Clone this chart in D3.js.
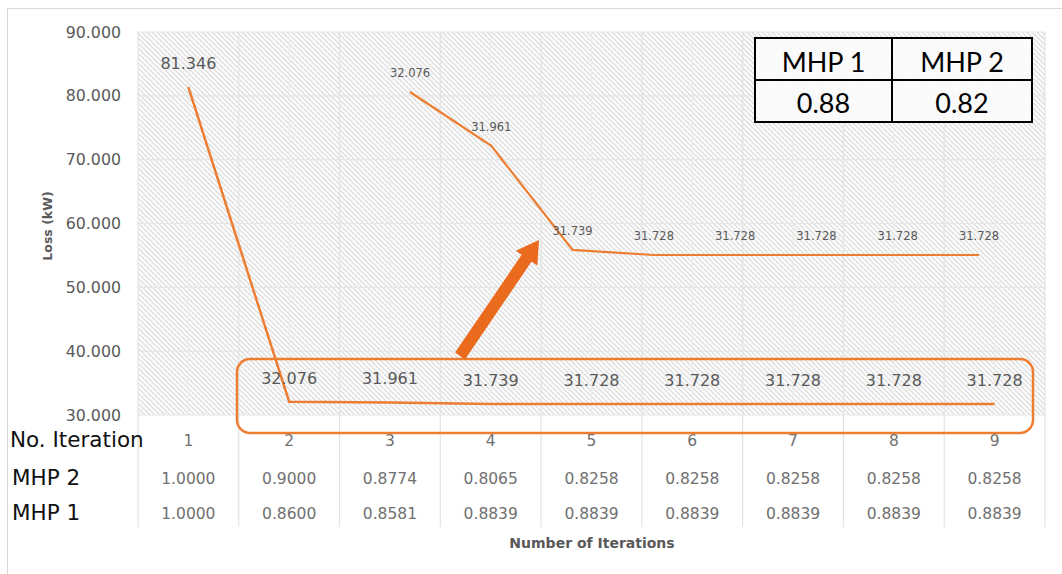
<!DOCTYPE html>
<html><head><meta charset="utf-8">
<script src="https://cdn.jsdelivr.net/npm/d3@7"></script>
<style>body{margin:0;background:#fff}svg{display:block}</style>
</head><body>
<svg id="c" width="1062" height="574"></svg>
<script>
const iterations = [1,2,3,4,5,6,7,8,9];
const loss = [81.346, 32.076, 31.961, 31.739, 31.728, 31.728, 31.728, 31.728, 31.728];
const mhp2 = ["1.0000","0.9000","0.8774","0.8065","0.8258","0.8258","0.8258","0.8258","0.8258"];
const mhp1 = ["1.0000","0.8600","0.8581","0.8839","0.8839","0.8839","0.8839","0.8839","0.8839"];
const yTicks = [30,40,50,60,70,80,90];
const finalHeaders = ["MHP 1","MHP 2"];
const finalValues = ["0.88","0.82"];

const svg = d3.select("#c");
const orange = "#ED7D31";
const grey = "#595959";
const font = "'DejaVu Sans', Verdana, sans-serif";
const font2 = "Lato, 'Open Sans', sans-serif";

// outer border
svg.append("rect").attr("x",7.5).attr("y",8.5).attr("width",1060).attr("height",580)
  .attr("fill","#fff").attr("stroke","#d9d9d9");

const defs = svg.append("defs");
const pat = defs.append("pattern").attr("id","hatch").attr("patternUnits","userSpaceOnUse")
  .attr("width",5).attr("height",5);
pat.append("rect").attr("width",5).attr("height",5).attr("fill","#fdfdfd");
pat.append("path").attr("d","M-1,-1 L6,6 M4,-1 L6,1 M-1,4 L1,6").attr("stroke","#e0e0e0").attr("stroke-width",1.5);

const x = d3.scaleBand().domain(iterations).range([138,1045]);
const y = d3.scaleLinear().domain([30,90]).range([415,32]);

// plot area hatch
svg.append("rect").attr("x",138).attr("y",32).attr("width",907).attr("height",383).attr("fill","url(#hatch)");

// gridlines
svg.append("g").selectAll("line").data(yTicks).join("line")
  .attr("x1",138).attr("x2",1045).attr("y1",d=>y(d)).attr("y2",d=>y(d))
  .attr("stroke","#e6e6e6").attr("stroke-width",1.2);
svg.append("g").selectAll("line").data(iterations).join("line")
  .attr("x1",d=>x(d)+x.bandwidth()/2).attr("x2",d=>x(d)+x.bandwidth()/2).attr("y1",32).attr("y2",415)
  .attr("stroke","#ececec").attr("stroke-width",1);
const bounds = iterations.map(d=>x(d)).concat([x(9)+x.bandwidth()]);
svg.append("g").selectAll("line").data(bounds).join("line")
  .attr("x1",d=>d).attr("x2",d=>d).attr("y1",32).attr("y2",527)
  .attr("stroke","#e3e3e3").attr("stroke-width",1.2);

// y axis labels
const yAxis = d3.axisLeft(y).tickValues(yTicks).tickFormat(d3.format(".3f")).tickSize(0).tickPadding(0);
const ya = svg.append("g").attr("transform","translate(121,0)").call(yAxis);
ya.select(".domain").remove();
ya.selectAll("text").attr("font-family",font).attr("font-size",15.8).attr("fill",grey);

svg.append("text").attr("transform","translate(52,226) rotate(-90)").attr("text-anchor","middle")
  .attr("font-family",font).attr("font-size",12.5).attr("font-weight","bold").attr("fill",grey).text("Loss (kW)");

// bottom data table
const rows = [
  {label:"No. Iteration", vals: iterations.map(String), y:447, lx:10},
  {label:"MHP 2", vals: mhp2, y:485, lx:12},
  {label:"MHP 1", vals: mhp1, y:520, lx:12}
];
rows.forEach(r=>{
  svg.append("text").attr("x",r.lx).attr("y",r.y).attr("font-family",font).attr("font-size",21.5)
    .attr("fill","#111").text(r.label);
  svg.append("g").selectAll("text").data(iterations).join("text")
    .attr("x",d=>x(d)+x.bandwidth()/2).attr("y",r.y-1).attr("text-anchor","middle")
    .attr("font-family",font).attr("font-size",15.5).attr("fill","#707070")
    .text((d,i)=>r.vals[i]);
});

svg.append("text").attr("x",592).attr("y",548).attr("text-anchor","middle")
  .attr("font-family",font).attr("font-size",14).attr("font-weight","bold").attr("fill",grey)
  .text("Number of Iterations");

// main line
const line = d3.line().x((d,i)=>x(iterations[i])+x.bandwidth()/2).y(d=>y(d));
svg.append("path").datum(loss).attr("d",line).attr("fill","none").attr("stroke",orange).attr("stroke-width",2.5);
svg.append("g").selectAll("text").data(loss).join("text")
  .attr("x",(d,i)=>x(iterations[i])+x.bandwidth()/2).attr("y",d=>y(d)-18).attr("text-anchor","middle")
  .attr("font-family",font).attr("font-size",16).attr("fill",grey).text(d=>d3.format(".3f")(d));

// inset (zoomed) line for iterations 2..9
const insetIter = iterations.slice(1), insetLoss = loss.slice(1);
const ix = d3.scalePoint().domain(insetIter).range([410,979]);
const iy = d3.scaleLinear().domain([31.728,32.076]).range([255,92]);
const iline = d3.line().x((d,i)=>ix(insetIter[i])).y(d=>iy(d));
svg.append("path").datum(insetLoss).attr("d",iline).attr("fill","none").attr("stroke",orange).attr("stroke-width",2.2);
svg.append("g").selectAll("text").data(insetLoss).join("text")
  .attr("x",(d,i)=>ix(insetIter[i])).attr("y",d=>iy(d)-15).attr("text-anchor","middle")
  .attr("font-family",font).attr("font-size",11.5).attr("fill",grey).text(d=>d3.format(".3f")(d));

// highlight rounded rect
svg.append("rect").attr("x",237).attr("y",359).attr("width",796).attr("height",74).attr("rx",13)
  .attr("fill","none").attr("stroke",orange).attr("stroke-width",2.5);

// arrow
const ax0=460, ay0=356, ax1=539, ay1=240;
const ang = Math.atan2(ay1-ay0, ax1-ax0);
const len = Math.hypot(ax1-ax0, ay1-ay0);
const ag = svg.append("g").attr("transform",`translate(${ax0},${ay0}) rotate(${ang*180/Math.PI})`);
ag.append("path").attr("d",`M0,-6 L${len-22},-6 L${len-22},-13 L${len},0 L${len-22},13 L${len-22},6 L0,6 Z`)
  .attr("fill","#EA6A1E");

// final values table
const tx = [755, 892, 1032], ty = [38, 80, 122];
const tg = svg.append("g");
tg.append("rect").attr("x",tx[0]).attr("y",ty[0]).attr("width",tx[2]-tx[0]).attr("height",ty[2]-ty[0])
  .attr("fill","#fbfbfb").attr("fill-opacity",0.85).attr("stroke","#000").attr("stroke-width",2);
tg.append("line").attr("x1",tx[1]).attr("x2",tx[1]).attr("y1",ty[0]).attr("y2",ty[2]).attr("stroke","#000").attr("stroke-width",2);
tg.append("line").attr("x1",tx[0]).attr("x2",tx[2]).attr("y1",ty[1]).attr("y2",ty[1]).attr("stroke","#000").attr("stroke-width",2);
[0,1].forEach(i=>{
  tg.append("text").attr("x",(tx[i]+tx[i+1])/2).attr("y",72).attr("text-anchor","middle")
    .attr("font-family",font2).attr("font-size",27).attr("fill","#000").text(finalHeaders[i]);
  tg.append("text").attr("x",(tx[i]+tx[i+1])/2).attr("y",113).attr("text-anchor","middle")
    .attr("font-family",font2).attr("font-size",27).attr("fill","#000").text(finalValues[i]);
});
</script>
</body></html>
